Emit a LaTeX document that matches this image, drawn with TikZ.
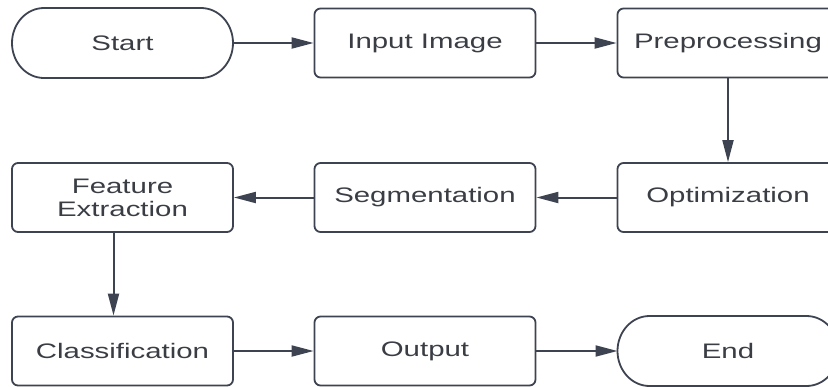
\documentclass[tikz,border=0pt]{standalone}
\usepackage{fontspec}
\newfontfamily\flowfont[FakeStretch=1.4]{Liberation Sans}
\usetikzlibrary{arrows.meta}
\definecolor{lineclr}{HTML}{3D4350}
\definecolor{textclr}{HTML}{3A3D44}

\tikzset{
  box/.style={draw=lineclr,line width=1.8pt,rounded corners=6pt,
    minimum width=221pt,minimum height=69pt,align=center,
    text=textclr,font=\flowfont\fontsize{21}{23}\selectfont},
  term/.style={box,draw=none,outer sep=0pt},
  arr/.style={draw=lineclr,line width=2pt,-{Triangle[length=22pt,width=11pt]}},
}

\newcommand{\termline}[1]{%
  \draw[draw=lineclr,line width=1.8pt,line join=round]
    ([xshift=32pt]#1.north west) -- ([xshift=-32pt]#1.north east)
    arc[start angle=90,end angle=-90,x radius=32pt,y radius=35pt]
    -- ([xshift=32pt]#1.south west)
    arc[start angle=270,end angle=90,x radius=32pt,y radius=35pt] -- cycle;}

\begin{document}
\begin{tikzpicture}[x=1pt,y=-1pt]
        \useasboundingbox (0,0) rectangle (828,386);
        % top row
        \draw (122.5,43) node[term,minimum height=70pt] (start) {Start};
        \draw (425,43) node[box] (inp) {Input Image};
        \draw (728,43) node[box] (pre) {Preprocessing};
        % middle row
        \draw (122.5,197.5) node[box] (feat) {Feature\\Extraction};
        \draw (425,197.5) node[box] (seg) {Segmentation};
        \draw (728,197.5) node[box] (opt) {Optimization};
        % bottom row
        \draw (122.5,351) node[box] (cls) {Classification};
        \draw (425,351) node[box] (out) {Output};
        \draw (728,351) node[term,minimum height=70pt] (end) {End};
        \termline{start}
        \termline{end}
        % connectors
        \draw[arr] (start) -- (inp);
        \draw[arr] (inp) -- (pre);
        \draw[arr] (pre) -- (opt);
        \draw[arr] (opt) -- (seg);
        \draw[arr] (seg) -- (feat);
        \draw[arr] ([xshift=-9pt]feat.south) -- ([xshift=-9pt]cls.north);
        \draw[arr] (cls) -- (out);
        \draw[arr] (out) -- (end);
\end{tikzpicture}
\end{document}
